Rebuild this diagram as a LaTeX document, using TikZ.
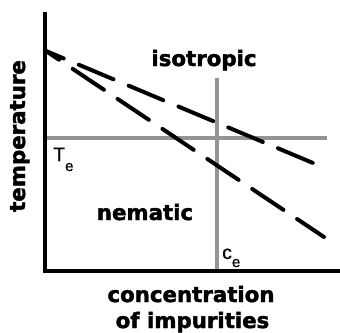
\documentclass[tikz,border=0pt]{standalone}
\usepackage{fontspec}
\setmainfont{DejaVu Sans}[BoldFeatures={FakeBold=2}]
\newfontfamily\lab{Liberation Sans}[FakeBold=0.6]
\begin{document}
\begin{tikzpicture}[x=1pt,y=-1pt,
  axisline/.style={line width=3.4pt,black},
  refline/.style={line width=3.2pt,draw=black!42},
  phaseline/.style={line width=4pt,line cap=round,dash pattern=on 37.6pt off 16.4pt},
  bigtext/.style={font=\fontsize{21.3}{21.3}\selectfont\bfseries,inner sep=0pt,anchor=base},
  subtext/.style={font=\lab\fontsize{19.5}{19.5}\selectfont,inner sep=0pt,anchor=base west}]
\useasboundingbox (0,0) rectangle (340,332);
% coordinates
\coordinate (top) at (45,12);
\coordinate (O) at (45,271);
\coordinate (xend) at (340,271);
\coordinate (hL) at (45,138);
\coordinate (hR) at (327,138);
\coordinate (vT) at (217,78);
\coordinate (vB) at (217,270);
\coordinate (S) at (46,51);
\coordinate (E1) at (313,163);
\coordinate (E2) at (324,237);
% reference lines
\draw[refline] (hL) -- (hR);
\draw[refline] (vT) -- (vB);
% phase boundaries
\draw[phaseline,dash phase=18.4pt] (S) -- (E1);
\draw[phaseline,dash phase=21.9pt] (S) -- (E2);
% axes
\draw[axisline] (top) -- (O) -- (xend);
% labels
\node[bigtext] (iso) at (204,66) {isotropic};
\node[bigtext] (nem) at (145,220) {nematic};
\node[bigtext] (conc) at (191,302) {concentration};
\node[bigtext] (imp) at (192.5,328) {of impurities};
\node[bigtext,rotate=90] (temp) at (25,136) {temperature};
\node[subtext] (Te) at (53,161) {T\raisebox{-10pt}{\fontsize{15}{15}\selectfont e}};
\node[subtext] (ce) at (222,259) {c\raisebox{-8pt}{\fontsize{15}{15}\selectfont e}};
\end{tikzpicture}
\end{document}
